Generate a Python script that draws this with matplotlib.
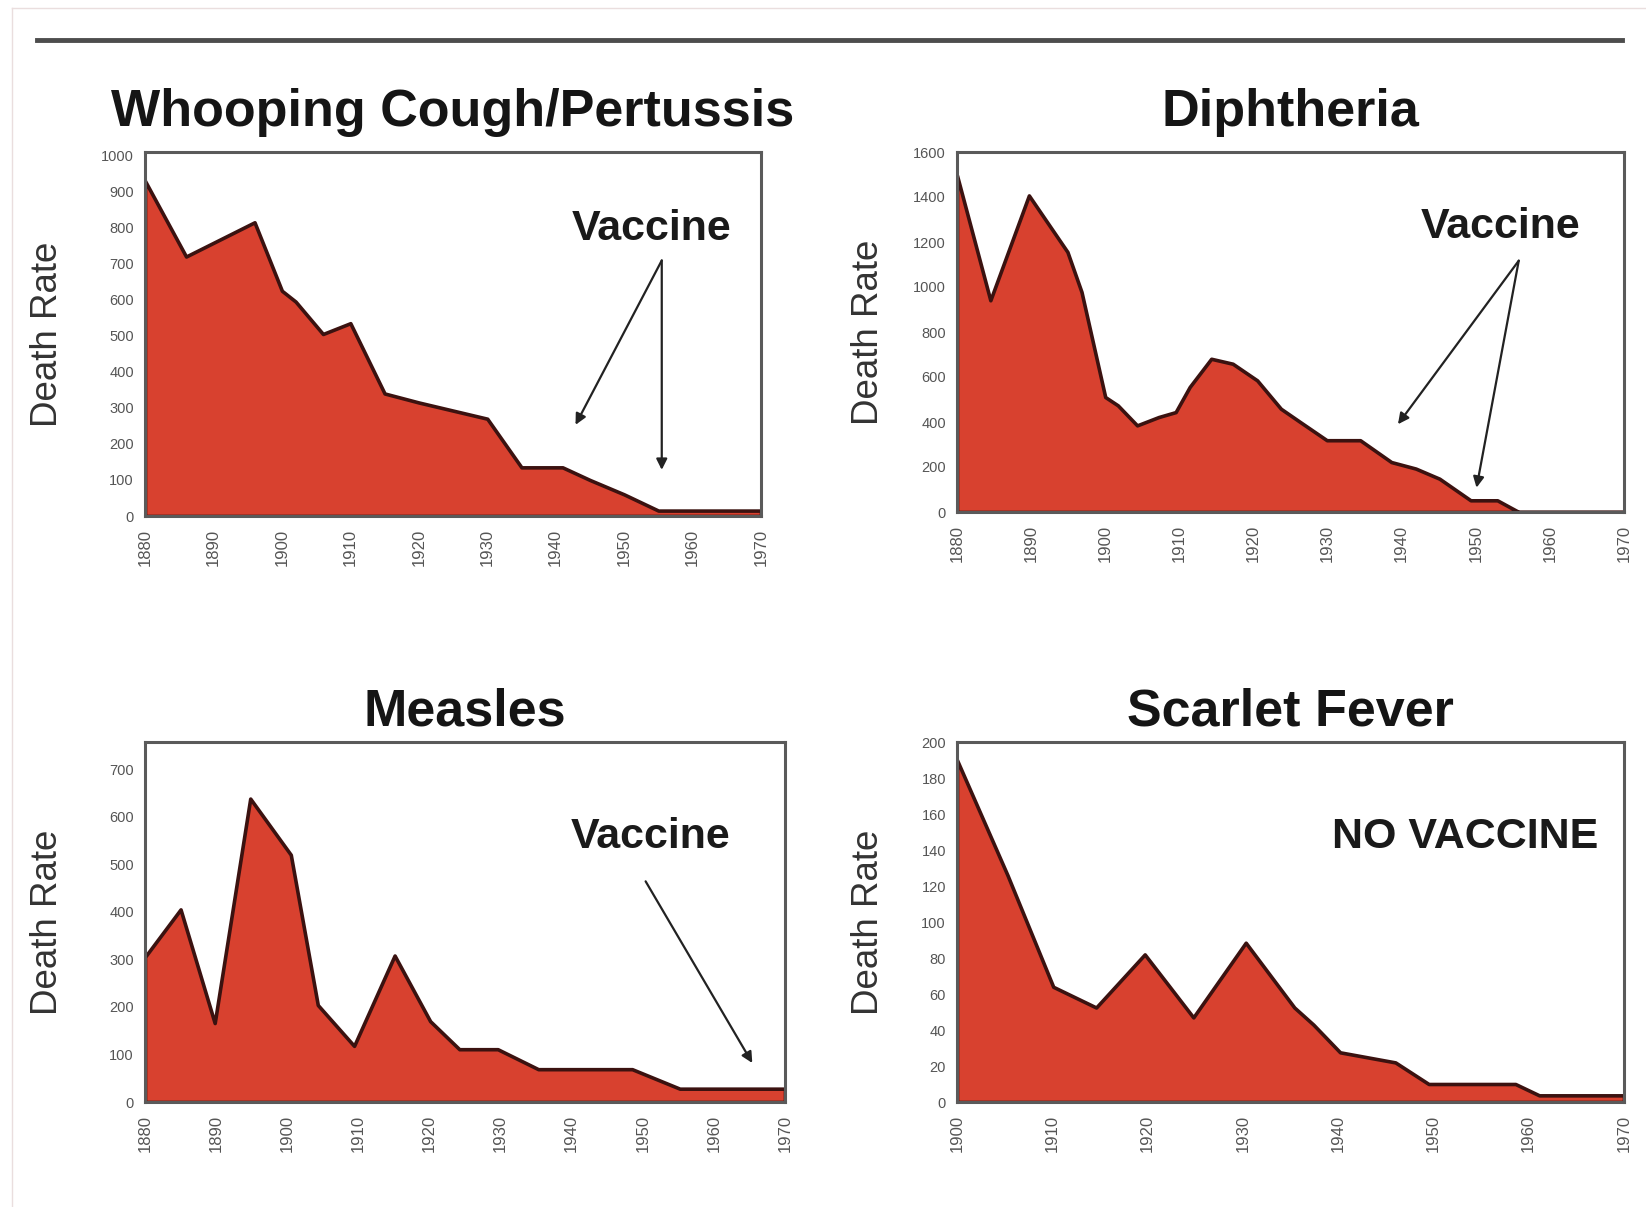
import numpy as np
import matplotlib.pyplot as plt
from matplotlib import font_manager

# pick a narrow bold face if available
names = {f.name for f in font_manager.fontManager.ttflist}
NARROW = 'Liberation Sans Narrow' if 'Liberation Sans Narrow' in names else 'Liberation Sans'
plt.rcParams['font.family'] = [NARROW, 'DejaVu Sans']

# --- data ---
pert_years = [1880, 1886, 1896, 1900, 1902, 1906, 1910, 1915, 1920, 1930, 1935, 1941, 1945, 1950, 1955, 1970]
pert_rate = [930, 720, 815, 625, 595, 505, 535, 340, 315, 270, 135, 135, 100, 60, 15, 15]

diph_years = [1880, 1884.5, 1889.7, 1894.9, 1896.8, 1900, 1901.7, 1904.3, 1907.2, 1909.5, 1911.4,
              1914.3, 1917.2, 1920.5, 1923.7, 1926.3, 1929.9, 1934.4, 1938.6, 1941.9, 1945.1,
              1949.3, 1952.9, 1955.8, 1970]
diph_rate = [1496, 941, 1407, 1156, 978, 511, 474, 385, 422, 444, 556,
             681, 659, 585, 459, 400, 319, 319, 222, 193, 148,
             52, 52, 0, 0]

meas_years = [1880, 1885, 1889.8, 1894.8, 1900.5, 1904.3, 1909.4, 1915.1, 1920.1, 1924.2, 1929.6,
              1935.3, 1948.5, 1955.2, 1970]
meas_rate = [305, 405, 166, 638, 520, 204, 118, 308, 170, 111, 111,
             69, 69, 28, 28]

scar_years = [1900, 1905.3, 1910.1, 1914.6, 1919.7, 1924.8, 1930.3, 1935.4, 1937.4, 1940.2, 1946,
              1949.5, 1958.6, 1961.1, 1970]
scar_rate = [190, 126, 64, 52.5, 82, 47, 88.5, 52.5, 43, 27.6, 22,
             10, 10, 3.7, 3.7]

titles = ['Whooping Cough/Pertussis', 'Diphtheria', 'Measles', 'Scarlet Fever']

FILL = '#d8412f'
EDGE = '#3b1210'
FRAME = '#5a5a5a'

fig = plt.figure(figsize=(16.46, 12.07), dpi=100)
fig.patch.set_facecolor('white')

# thin rule under the (cropped) page heading
fig.add_artist(plt.Line2D([37 / 1646, 1622 / 1646], [1 - 40 / 1207] * 2,
                          color='#4d4d4d', lw=3.5))
# faint screenshot border
fig.add_artist(plt.Line2D([12 / 1646, 12 / 1646], [0, 1 - 8 / 1207], color='#eadede', lw=1))
fig.add_artist(plt.Line2D([12 / 1646, 1], [1 - 8 / 1207] * 2, color='#eadede', lw=1))

boxes = [
    [145 / 1646, 1 - 516 / 1207, 616 / 1646, 364 / 1207],
    [957 / 1646, 1 - 512 / 1207, 667 / 1646, 360 / 1207],
    [145 / 1646, 1 - 1102 / 1207, 640 / 1646, 360 / 1207],
    [957 / 1646, 1 - 1102 / 1207, 667 / 1646, 360 / 1207],
]
series = [(pert_years, pert_rate), (diph_years, diph_rate),
          (meas_years, meas_rate), (scar_years, scar_rate)]
xlims = [(1880, 1970), (1880, 1970), (1880, 1970), (1900, 1970)]
ylims = [(0, 1010), (0, 1600), (0, 757), (0, 200)]
ysteps = [100, 200, 100, 20]
ymax_tick = [1000, 1600, 700, 200]
ylab_x = [-0.13, -0.106, -0.125, -0.106]
title_pad = [19, 19, 12, 12]

axes = []
for i in range(4):
    ax = fig.add_axes(boxes[i])
    x, y = series[i]
    ax.fill_between(x, y, 0, facecolor=FILL, edgecolor=EDGE, linewidth=2.6, zorder=2)
    ax.set_xlim(*xlims[i])
    ax.set_ylim(*ylims[i])
    ax.set_xticks(np.arange(xlims[i][0], xlims[i][1] + 1, 10))
    ax.set_yticks(np.arange(0, ymax_tick[i] + 1, ysteps[i]))
    ax.tick_params(axis='both', length=0, labelcolor='#555555')
    ax.tick_params(axis='x', rotation=90, pad=9, labelsize=12)
    ax.tick_params(axis='y', pad=8, labelsize=10.5)
    for s in ax.spines.values():
        s.set_color(FRAME)
        s.set_linewidth(2.2)
    ax.set_title(titles[i], fontsize=37.5, fontweight='bold', color='#151515', pad=title_pad[i])
    ax.set_ylabel('Death Rate', fontsize=26.5, color='#333333')
    ax.yaxis.set_label_coords(ylab_x[i], 0.5)
    axes.append(ax)

arrow = dict(arrowstyle='-|>', color='#222222', lw=1.6, mutation_scale=16, shrinkA=0, shrinkB=0)
txt = dict(fontsize=31, fontweight='bold', color='#1a1a1a', ha='center', va='center')

ax = axes[0]
ax.text(1954, 797, 'Vaccine', **txt)
ax.annotate('', xy=(1942.9, 253), xytext=(1955.5, 709), arrowprops=arrow)
ax.annotate('', xy=(1955.5, 128), xytext=(1955.5, 709), arrowprops=arrow)

ax = axes[1]
ax.text(1953.4, 1268, 'Vaccine', **txt)
ax.annotate('', xy=(1939.5, 390), xytext=(1955.8, 1117), arrowprops=arrow)
ax.annotate('', xy=(1950.1, 108), xytext=(1955.8, 1117), arrowprops=arrow)

ax = axes[2]
ax.text(1951.1, 558, 'Vaccine', **txt)
ax.annotate('', xy=(1965.4, 82), xytext=(1950.4, 464), arrowprops=arrow)

ax = axes[3]
ax.text(1953.3, 147.5, 'NO VACCINE', **txt)

fig.savefig('out.png', dpi=100)
